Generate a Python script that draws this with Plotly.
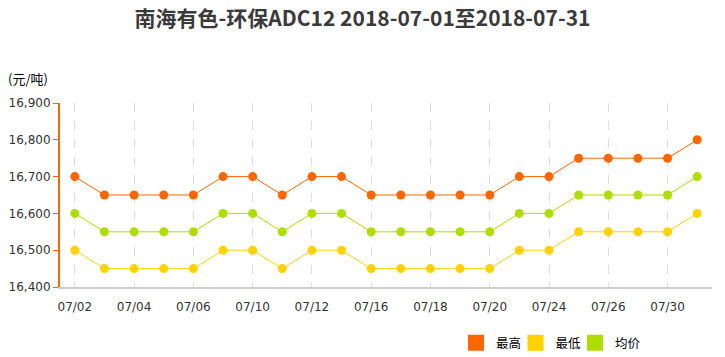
import plotly.graph_objects as go

dates = ["07/02", "07/03", "07/04", "07/05", "07/06", "07/09", "07/10", "07/11",
         "07/12", "07/13", "07/16", "07/17", "07/18", "07/19", "07/20", "07/23",
         "07/24", "07/25", "07/26", "07/27", "07/30", "07/31"]
high = [16700, 16650, 16650, 16650, 16650, 16700, 16700, 16650, 16700, 16700, 16650,
        16650, 16650, 16650, 16650, 16700, 16700, 16750, 16750, 16750, 16750, 16800]
low = [16500, 16450, 16450, 16450, 16450, 16500, 16500, 16450, 16500, 16500, 16450,
       16450, 16450, 16450, 16450, 16500, 16500, 16550, 16550, 16550, 16550, 16600]
avg = [16600, 16550, 16550, 16550, 16550, 16600, 16600, 16550, 16600, 16600, 16550,
       16550, 16550, 16550, 16550, 16600, 16600, 16650, 16650, 16650, 16650, 16700]
tick_labels = ["07/02", "07/04", "07/06", "07/10", "07/12", "07/16", "07/18",
               "07/20", "07/24", "07/26", "07/30"]
series_names = ["最高", "最低", "均价"]
colors = ["#FF6600", "#FFD200", "#AEDD00"]

fig = go.Figure()
for name, vals, c in zip(series_names, [high, low, avg], colors):
    fig.add_trace(go.Scatter(x=dates, y=vals, mode="lines+markers", name=name,
                             line=dict(color=c, width=1),
                             marker=dict(color=c, size=9),
                             showlegend=False))
for name, c in zip(series_names, colors):
    fig.add_trace(go.Scatter(x=[None], y=[None], name=name, mode="markers",
                             marker=dict(color=c, size=16, symbol="square"),
                             showlegend=True))
# invisible spacer entry so the last legend label is not clipped
fig.add_trace(go.Scatter(x=[None], y=[None], name=" ", mode="markers",
                         marker=dict(color="rgba(0,0,0,0)", size=1),
                         showlegend=True, hoverinfo="skip"))

fig.update_layout(
    width=725, height=357,
    margin=dict(l=60, r=13, t=103, b=70, autoexpand=False),
    paper_bgcolor="white", plot_bgcolor="white",
    font=dict(family="DejaVu Sans", size=12, color="#333333"),
    title=dict(text="<b>南海有色-环保ADC12 2018-07-01至2018-07-31</b>",
               x=0.5, xanchor="center", y=1 - 19 / 357, yanchor="middle",
               automargin=False,
               font=dict(family="Noto Sans CJK SC", size=21, color="#3a3a3a")),
    legend=dict(orientation="h", x=(456 - 60) / 652, xanchor="left",
                y=-0.305, yanchor="middle",
                font=dict(family="Noto Sans CJK SC", size=12.5, color="#000000"),
                entrywidth=14.5, entrywidthmode="pixels",
                tracegroupgap=0, bgcolor="rgba(0,0,0,0)"),
    showlegend=True,
)
fig.update_xaxes(type="category", categoryorder="array", categoryarray=dates,
                 range=[-0.5, len(dates) - 0.5], automargin=False,
                 tickmode="array", tickvals=tick_labels, ticktext=tick_labels,
                 showgrid=True, gridcolor="#dddddd", griddash="dash", gridwidth=1,
                 showline=True, linecolor="#cccccc", linewidth=2,
                 ticks="outside", ticklen=8, tickcolor="rgba(0,0,0,0)",
                 tickfont=dict(size=12, color="#333333"), zeroline=False)
fig.update_yaxes(range=[16400, 16900], dtick=100, tickformat=",d", automargin=False,
                 showgrid=False, zeroline=False,
                 showline=True, linecolor="#FF6600", linewidth=2,
                 ticks="outside", tickcolor="#FF6600", ticklen=5, tickwidth=1,
                 tickfont=dict(size=12, color="#333333"))
fig.add_annotation(text="(元/吨)", xref="paper", yref="paper",
                   x=(6 - 60) / 652, y=(287 - 78) / 184, xanchor="left", yanchor="middle",
                   showarrow=False,
                   font=dict(family="Noto Sans CJK SC", size=13, color="#000000"))

fig.write_html("out.html", config={"displayModeBar": False},
               post_script="document.body.style.margin='0px';document.body.style.overflow='hidden';")
